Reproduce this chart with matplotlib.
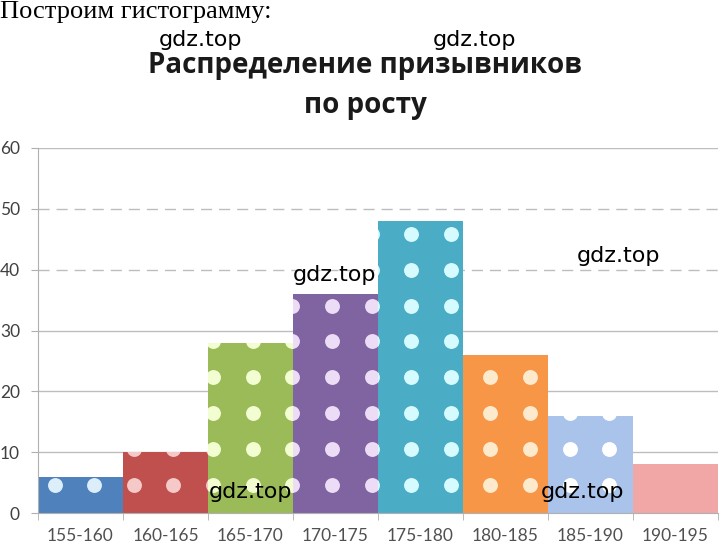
import matplotlib
matplotlib.use("Agg")
import matplotlib.pyplot as plt
import numpy as np

# данные гистограммы
categories = ["155-160", "160-165", "165-170", "170-175", "175-180", "180-185", "185-190", "190-195"]
counts = [6, 10, 28, 36, 48, 26, 16, 8]
bar_colors = ["#4f81bd", "#c0504d", "#9bbb59", "#8064a2", "#4bacc6", "#f79646", "#a9c3ea", "#f2a7a7"]
dot_colors = ["#dceefa", "#f6c9c9", "#f3fdd2", "#ecdcf6", "#d6fbff", "#fde9cc", "#ffffff", "#f2a7a7"]
y_ticks = [0, 10, 20, 30, 40, 50, 60]
dashed_ticks = [40, 50]
watermarks = [(201, 40), (474, 40), (334, 275), (619, 256), (250, 492), (582, 492)]

fig = plt.figure(figsize=(7.21, 5.45), dpi=100)
ax = fig.add_axes([38 / 721, 1 - 513 / 545, 680 / 721, 365 / 545])

ax.set_xlim(0, len(categories))
ax.set_ylim(0, 60)

# линии сетки
for t in y_ticks[1:]:
    ls = (0, (8, 5)) if t in dashed_ticks else "-"
    ax.axhline(t, color="#bdbdbd", lw=1, ls=ls, zorder=0)

# столбцы с точечным узором
x_pos = np.arange(len(categories))
bars = ax.bar(x_pos, counts, width=1.0, align="edge", color=bar_colors, zorder=2)
dot_x = np.arange(0.196, len(categories), 0.466)
dot_y = np.arange(4.6, 60, 5.9)
gx, gy = np.meshgrid(dot_x, dot_y)
for bar, dc in zip(bars, dot_colors):
    sc = ax.scatter(gx.ravel(), gy.ravel(), s=115, color=dc, linewidths=0, zorder=3)
    sc.set_clip_path(bar)

for s in ["top", "right"]:
    ax.spines[s].set_visible(False)
for s in ["left", "bottom"]:
    ax.spines[s].set_color("#b0b0b0")

ax.set_yticks(y_ticks)
ax.set_yticklabels([str(t) for t in y_ticks])
ax.set_xticks(x_pos + 0.5)
ax.set_xticklabels(categories)
ax.xaxis.set_minor_locator(matplotlib.ticker.FixedLocator(np.arange(len(categories) + 1)))
ax.tick_params(axis="x", which="major", length=0, pad=11, labelsize=12.5, labelcolor="#505050")
ax.tick_params(axis="x", which="minor", length=5, color="#b0b0b0")
ax.tick_params(axis="y", length=5, color="#b0b0b0", pad=8, labelsize=12.5, labelcolor="#404040")
for lbl in ax.get_xticklabels() + ax.get_yticklabels():
    lbl.set_family("Lato")

# заголовки
fig.text(0.0, 1 - 1 / 545, "Построим гистограмму:", family="Liberation Serif",
         fontsize=19, ha="left", va="top")
fig.text(365 / 721, 1 - 66 / 545, "Распределение призывников", family="Open Sans",
         fontweight="bold", fontsize=20, ha="center", va="center", color="#1a1a1a")
fig.text(365 / 721, 1 - 106 / 545, "по росту", family="Open Sans",
         fontweight="bold", fontsize=20, ha="center", va="center", color="#1a1a1a")

# водяные знаки
for wx, wy in watermarks:
    fig.text(wx / 721, 1 - wy / 545, "gdz.top", family="DejaVu Sans",
             fontsize=16, ha="center", va="center", color="black", zorder=10)

fig.savefig("out.png", dpi=100)
